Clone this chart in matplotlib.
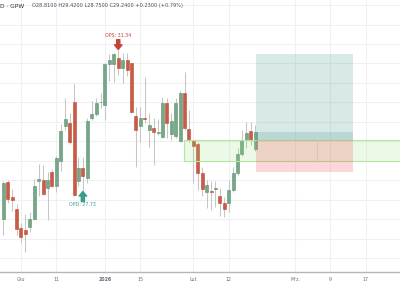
import matplotlib
matplotlib.use("Agg")
import matplotlib.pyplot as plt
from matplotlib.patches import Rectangle
import numpy as np

# ---- data (prices) ----
opens = [27.00, 27.95, 27.57, 27.26, 26.77, 26.71, 26.80, 26.99, 27.99, 28.00,
         27.80, 28.20, 27.86, 28.48, 29.40, 29.46, 30.01, 27.98, 28.32, 28.06,
         29.59, 29.69, 30.00, 29.92, 30.99, 30.99, 31.13, 30.88, 31.09, 31.00,
         29.65, 29.39, 29.61, 29.29, 29.33, 29.20, 29.12, 29.98, 29.19, 29.13,
         29.01, 30.25, 29.31, 29.01, 28.92, 28.18, 27.70, 27.72, 27.77, 27.60,
         27.40, 27.40, 27.75, 28.18, 28.67, 29.03, 29.26, 28.81]
highs = [27.98, 28.00, 27.77, 27.39, 26.90, 27.13, 27.18, 28.03, 28.42, 28.39,
         28.21, 28.29, 28.61, 29.44, 30.11, 29.73, 30.48, 28.60, 28.60, 29.60,
         30.03, 30.10, 30.24, 31.01, 31.24, 31.28, 31.34, 31.27, 31.27, 31.01,
         29.88, 29.88, 30.65, 29.73, 29.60, 29.57, 30.15, 30.11, 29.73, 30.11,
         30.30, 30.79, 29.80, 29.03, 28.99, 28.34, 28.00, 27.98, 27.98, 27.80,
         27.57, 28.00, 28.34, 28.83, 29.29, 29.49, 29.49, 29.42]
lows = [26.59, 27.41, 27.21, 26.59, 26.38, 26.15, 26.67, 26.98, 27.59, 27.62,
        26.98, 27.82, 27.70, 28.24, 29.29, 28.93, 27.59, 27.85, 27.73, 27.93,
        29.55, 29.65, 29.85, 29.55, 30.55, 30.52, 30.70, 30.50, 30.68, 29.73,
        28.34, 28.98, 29.47, 28.85, 28.39, 29.16, 29.08, 29.08, 29.03, 29.08,
        28.98, 29.29, 28.98, 27.93, 27.75, 27.59, 27.28, 27.23, 27.31, 27.08,
        27.05, 27.18, 27.70, 28.13, 28.62, 28.83, 28.90, 28.75]
closes = [27.93, 27.52, 27.49, 26.74, 26.54, 26.62, 27.00, 27.86, 28.03, 27.64,
          28.00, 27.85, 28.56, 29.26, 29.57, 28.97, 27.62, 28.31, 28.11, 29.52,
          29.70, 29.99, 30.02, 30.99, 31.09, 31.24, 30.88, 31.09, 30.83, 29.76,
          29.29, 29.59, 29.56, 29.41, 29.25, 29.25, 29.98, 29.48, 29.53, 29.99,
          30.25, 29.33, 29.03, 28.88, 28.19, 27.77, 27.88, 27.69, 27.81, 27.40,
          27.25, 27.75, 28.18, 28.67, 29.01, 29.20, 29.03, 29.24]

tick_pos = [4, 12, 23, 31, 43, 51, 66, 74, 82]
tick_labels = ["Gru", "11", "2026", "15", "Lut", "12", "Mrz.", "9", "17"]

zone_low, zone_high, zone_start = 28.50, 29.03, 40.85
pos_start, pos_end = 57.2, 79.05
target, entry, stop, last_close = 31.24, 29.04, 28.22, 29.24

ops_idx, ops_val = 26, 31.34
opd_idx, opd_val = 18, 27.73

# ---- figure ----
W, H = 400, 284
fig = plt.figure(figsize=(W / 100, H / 100), dpi=100)
ax = fig.add_axes([0, (H - 272) / H, 1, 272 / H])

xmin, xmax = -0.75, 89.75
ymin, ymax = 25.639, 32.631
ax.set_xlim(xmin, xmax)
ax.set_ylim(ymin, ymax)

grid_c = "#eef0f4"
for p in np.arange(26.0, 32.6, 0.5):
    ax.axhline(p, color=grid_c, lw=0.8, zorder=0)
for t in tick_pos:
    ax.axvline(t, color=grid_c, lw=0.8, zorder=0)

up_face, up_edge = "#76a888", "#5c8e6f"
dn_face, dn_edge = "#cc5b45", "#b14b37"
wick_c = "#c6c6c6"
bw = 0.68
for i, (o, h, l, c) in enumerate(zip(opens, highs, lows, closes)):
    ax.vlines(i, l, h, color=wick_c, lw=0.75, zorder=2)
    up = c >= o
    bot = min(o, c)
    hgt = max(abs(c - o), 0.02)
    ax.add_patch(Rectangle((i - bw / 2, bot), bw, hgt,
                           facecolor=up_face if up else dn_face,
                           edgecolor=up_edge if up else dn_edge,
                           lw=0.4, zorder=3))

# support/resistance zone
ax.add_patch(Rectangle((zone_start, zone_low), xmax - zone_start, zone_high - zone_low,
                       facecolor="#9be07a", alpha=0.18, edgecolor="none", zorder=4))
ax.add_patch(Rectangle((zone_start, zone_low), xmax - zone_start + 1, zone_high - zone_low,
                       facecolor="none", edgecolor="#b4e69f", lw=0.8, zorder=4))

# long position tool
ax.add_patch(Rectangle((pos_start, entry), pos_end - pos_start, target - entry,
                       facecolor="#4f9e90", alpha=0.22, edgecolor="none", zorder=5))
ax.add_patch(Rectangle((pos_start, entry), pos_end - pos_start, last_close - entry,
                       facecolor="#4f9e90", alpha=0.22, edgecolor="none", zorder=5))
ax.add_patch(Rectangle((pos_start, stop), pos_end - pos_start, entry - stop,
                       facecolor="#f23645", alpha=0.2, edgecolor="none", zorder=5))
ax.vlines(71.04, zone_low, zone_high, color="#d6c9b0", lw=0.8, zorder=6)

# OPS / OPD markers
red_c = "#c8413b"
teal_c = "#3e9c8d"
ax.annotate("", xy=(ops_idx, 31.36), xytext=(ops_idx, 31.61),
            arrowprops=dict(arrowstyle="simple,head_length=0.55,head_width=0.9,tail_width=0.38",
                            color=red_c, mutation_scale=6, shrinkA=0, shrinkB=0), zorder=7)
ax.text(ops_idx, 31.71, "OPS: 31.34", color=red_c, fontsize=3.4, ha="center", va="center", zorder=7)
ax.annotate("", xy=(opd_idx, 27.71), xytext=(opd_idx, 27.45),
            arrowprops=dict(arrowstyle="simple,head_length=0.55,head_width=0.9,tail_width=0.38",
                            color=teal_c, mutation_scale=6, shrinkA=0, shrinkB=0), zorder=7)
ax.text(opd_idx, 27.37, "OPD: 27.73", color=teal_c, fontsize=3.4, ha="center", va="center", zorder=7)

# axes styling
for s in ["top", "right", "left"]:
    ax.spines[s].set_visible(False)
ax.spines["bottom"].set_color("#b2b5be")
ax.spines["bottom"].set_linewidth(1.0)
ax.set_yticks([])
ax.set_xticks(tick_pos)
ax.set_xticklabels(tick_labels, fontsize=3.4, color="#6a6d78")
for lbl, txt in zip(ax.get_xticklabels(), tick_labels):
    if txt == "2026":
        lbl.set_fontweight("bold")
ax.tick_params(axis="x", length=0, pad=3.5)

# header
fig.text(0.0, 1 - 6 / H, "D · GPW", fontsize=4.2, color="#2a2e39", va="center", ha="left")
fig.text(32 / W, 1 - 6 / H, "O28.8100 H29.4200 L28.7500 C29.2400 +0.2300 (+0.79%)",
         fontsize=3.6, color="#4a4e59", va="center", ha="left")

fig.savefig("out.png", dpi=100)
